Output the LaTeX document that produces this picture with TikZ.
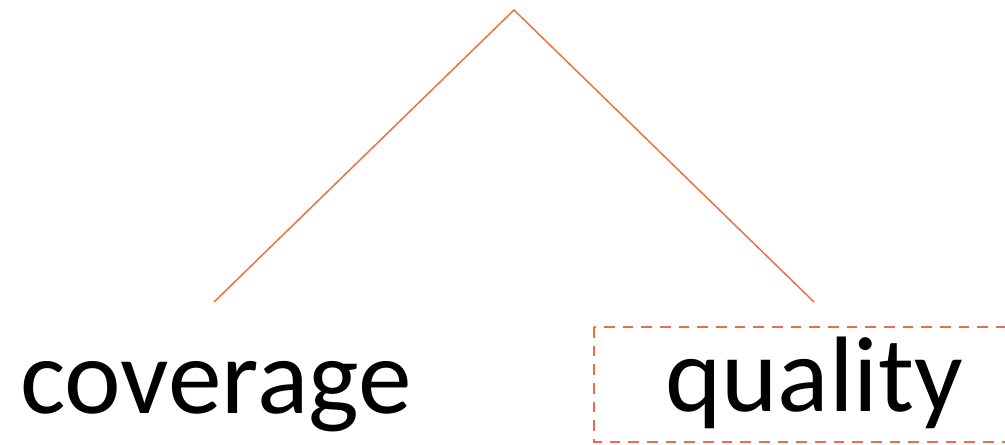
\documentclass[tikz,border=0pt]{standalone}
\usepackage{fontspec}
\setmainfont{Carlito}
\definecolor{treeorange}{RGB}{237,110,66}
\begin{document}
\begin{tikzpicture}[x=0.75pt,y=-0.75pt,
  branch/.style={draw=treeorange,line width=1.1pt},
  label/.style={inner sep=0pt,anchor=base west,font=\fontsize{80.5}{92}\selectfont},
  focusbox/.style={draw=treeorange,line width=2.2pt,dash pattern=on 8pt off 6pt}]
\useasboundingbox (0,0) rectangle (1005,445);
\clip (0,0) rectangle (1005,445);
\coordinate (apex) at (514,10);
\coordinate (lend) at (214,302);
\coordinate (rend) at (814,302);
\draw[branch] (lend) -- (apex) -- (rend);
\node[label] (cov) at (20,413) {coverage};
\node[label] (qual) at (665,411) {quality};
\draw[focusbox] (594,327) rectangle (1012,442);
\end{tikzpicture}
\end{document}
